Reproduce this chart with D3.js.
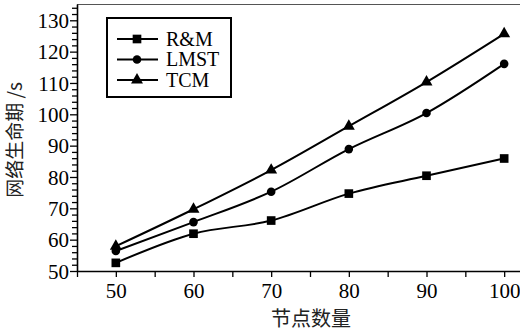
<!DOCTYPE html>
<html><head><meta charset="utf-8">
<script src="https://cdn.jsdelivr.net/npm/d3@7"></script>
<style>body{margin:0;background:#fff}svg{display:block}</style>
</head><body>
<svg id="c" width="520" height="331"></svg>
<script>
const nodes = [50, 60, 70, 80, 90, 100];
const rm   = [52.6, 61.9, 66.1, 74.7, 80.4, 85.9];
const lmst = [56.4, 65.6, 75.3, 88.9, 100.4, 116.1];
const tcm  = [57.9, 69.7, 82.2, 96.2, 110.3, 125.7];
const seriesNames = ["R&M", "LMST", "TCM"];
const xTickLabels = [50, 60, 70, 80, 90, 100];
const yTickLabels = [50, 60, 70, 80, 90, 100, 110, 120, 130];

const svg = d3.select("#c");
const L = 77, B = 271, T = 4;
const x = d3.scaleLinear().domain([45, 105]).range([L, L + 466]);
const y = d3.scaleLinear().domain([50, 135.2]).range([B, T]);
const serif = "'Liberation Serif','Times New Roman',serif";
const cjk = "'Noto Sans CJK SC',sans-serif";

// top frame line
svg.append("line").attr("x1", L).attr("x2", 520).attr("y1", T + 0.5).attr("y2", T + 0.5)
  .attr("stroke", "#555").attr("stroke-width", 1.2);

// y axis minor
const yMinor = d3.range(52, 135, 2).filter(v => v % 10 !== 0);
svg.append("g").attr("transform", `translate(${L},0)`)
  .call(d3.axisLeft(y).tickValues(yMinor).tickSize(5).tickFormat(""))
  .call(g => g.select(".domain").remove())
  .selectAll("line").attr("stroke", "#000").attr("stroke-width", 1.3);
// y axis major
svg.append("g").attr("transform", `translate(${L},0)`)
  .call(d3.axisLeft(y).tickValues(yTickLabels).tickSize(7).tickSizeOuter(0).tickPadding(1))
  .call(g => g.select(".domain").attr("stroke", "#000").attr("stroke-width", 1.6))
  .call(g => g.selectAll("line").attr("stroke", "#000").attr("stroke-width", 1.3))
  .call(g => g.selectAll("text").attr("font-family", serif).attr("font-size", 21).attr("fill", "#000").attr("dy", "0.34em"));

// x axis minor
const xMinor = d3.range(45, 106, 5).filter(v => v % 10 !== 0);
svg.append("g").attr("transform", `translate(0,${B})`)
  .call(d3.axisBottom(x).tickValues(xMinor).tickSize(6).tickFormat(""))
  .call(g => g.select(".domain").remove())
  .selectAll("line").attr("stroke", "#000").attr("stroke-width", 1.3);
svg.append("g").attr("transform", `translate(0,${B})`)
  .call(d3.axisBottom(x).tickValues(xTickLabels).tickSize(6).tickSizeOuter(0).tickPadding(6))
  .call(g => g.select(".domain").attr("stroke", "#000").attr("stroke-width", 1.6))
  .call(g => g.selectAll("line").attr("stroke", "#000").attr("stroke-width", 1.3))
  .call(g => g.selectAll("text").attr("font-family", serif).attr("font-size", 21).attr("fill", "#000"));

// titles
svg.append("text").attr("x", 311).attr("y", 326).attr("text-anchor", "middle")
  .attr("font-family", cjk).attr("font-size", 20).attr("fill", "#222").text("节点数量");
svg.append("text").attr("transform", "translate(22,140) rotate(-90)").attr("text-anchor", "middle")
  .attr("font-family", cjk).attr("font-size", 19).attr("fill", "#222").text("网络生命期 /s");

// series
const data = [rm, lmst, tcm];
const shapes = [d3.symbolSquare, d3.symbolCircle, d3.symbolTriangle];
const sizes = [75, 58, 62];
const line = d3.line().x((d, i) => x(nodes[i])).y(d => y(d)).curve(d3.curveMonotoneX);
data.forEach((vals, k) => {
  svg.append("path").attr("d", line(vals)).attr("fill", "none").attr("stroke", "#000").attr("stroke-width", 2);
  svg.append("g").selectAll("path").data(vals).join("path")
    .attr("transform", (d, i) => `translate(${x(nodes[i])},${y(d)})`)
    .attr("d", d3.symbol().type(shapes[k]).size(sizes[k])).attr("fill", "#000");
});

// legend
const lg = svg.append("g");
lg.append("rect").attr("x", 107).attr("y", 18).attr("width", 124).attr("height", 79)
  .attr("fill", "#fff").attr("stroke", "#000").attr("stroke-width", 2);
seriesNames.forEach((n, k) => {
  const yy = 39 + k * 20.5;
  lg.append("line").attr("x1", 117).attr("x2", 158).attr("y1", yy).attr("y2", yy).attr("stroke", "#000").attr("stroke-width", 2);
  lg.append("path").attr("transform", `translate(137,${yy})`).attr("d", d3.symbol().type(shapes[k]).size(sizes[k])).attr("fill", "#000");
  lg.append("text").attr("x", 166).attr("y", yy).attr("dy", "0.34em").attr("font-family", serif)
    .attr("font-size", 20).attr("fill", "#000").text(n);
});
</script>
</body></html>
